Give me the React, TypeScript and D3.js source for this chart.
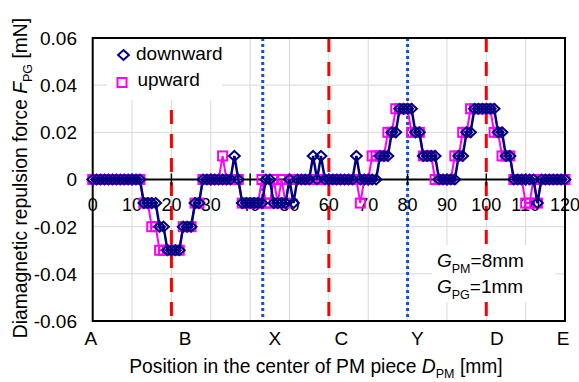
import React from "react";
import * as d3 from "d3";

const positions: number[] = d3.range(0, 121);
const downward: number[] = [
  0, 0, 0, 0, 0, 0, 0, 0, 0, 0,
  0, 0, 0, -0.01, -0.01, -0.01, -0.01, -0.02, -0.02, -0.03,
  -0.03, -0.03, -0.03, -0.02, -0.02, -0.02, -0.01, -0.01, 0, 0,
  0, 0, 0, 0, 0, 0, 0.01, 0, -0.01, -0.01,
  -0.01, -0.01, -0.01, -0.01, 0, 0, -0.01, -0.01, -0.01, -0.01,
  0, -0.01, 0, 0, 0, 0, 0.01, 0, 0.01, 0,
  0, 0, 0, 0, 0, 0, 0, 0.01, 0, 0,
  0, 0, 0, 0.01, 0.01, 0.01, 0.02, 0.02, 0.03, 0.03,
  0.03, 0.03, 0.02, 0.02, 0.01, 0.01, 0.01, 0.01, 0, 0,
  0, 0, 0, 0.01, 0.01, 0.02, 0.02, 0.03, 0.03, 0.03,
  0.03, 0.03, 0.03, 0.02, 0.02, 0.01, 0.01, 0, 0, 0,
  0, 0, 0, -0.01, 0, 0, 0, 0, 0, 0, 0,
];
const upward: number[] = [
  0, 0, 0, 0, 0, 0, 0, 0, 0, 0,
  0, 0, 0, -0.01, -0.01, -0.02, -0.02, -0.03, -0.03, -0.03,
  -0.03, -0.03, -0.03, -0.02, -0.02, -0.02, -0.01, -0.01, 0, 0,
  0, 0, 0, 0.01, 0, 0, 0, 0, -0.01, -0.01,
  -0.01, -0.01, -0.01, 0, -0.01, -0.01, 0, -0.01, 0, -0.01,
  0, 0, 0, 0, 0, 0, 0, 0, 0, 0,
  0, 0, 0, 0, 0, 0, 0, 0, -0.01, 0,
  0, 0.01, 0.01, 0.01, 0.01, 0.02, 0.02, 0.03, 0.03, 0.03,
  0.03, 0.02, 0.02, 0.02, 0.01, 0.01, 0.01, 0, 0, 0,
  0, 0, 0.01, 0.01, 0.02, 0.02, 0.03, 0.03, 0.03, 0.03,
  0.03, 0.03, 0.02, 0.02, 0.01, 0.01, 0.01, 0, 0, 0,
  -0.01, -0.01, 0, -0.01, 0, 0, 0, 0, 0, 0, 0,
];
const xTicks: number[] = d3.range(0, 121, 10);
const yTicks: number[] = [-0.06, -0.04, -0.02, 0, 0.02, 0.04, 0.06];
const categoryLabels: string[] = ["A", "B", "X", "C", "Y", "D", "E"];
const categoryPositions: number[] = [-0.5, 23.5, 46.3, 63.2, 82.5, 102.7, 119.5];
const redLines: number[] = [20, 60, 100];
const blueLines: number[] = [43.2, 80];

const FONT = "'Liberation Sans', Arial, sans-serif";

export default function App() {
  const W = 579, H = 382;
  const L = 92.7, R = 565, T = 38, B = 321;
  const x = d3.scaleLinear().domain([0, 120]).range([L, R]);
  const y = d3.scaleLinear().domain([-0.06, 0.06]).range([B, T]);
  const line = d3.line<number>().x((_, i) => x(positions[i])).y((d) => y(d));
  const diamond = (cx: number, cy: number) =>
    `M${cx},${cy - 5}L${cx + 5.4},${cy}L${cx},${cy + 5}L${cx - 5.4},${cy}Z`;

  return (
    <svg width={W} height={H} style={{ position: "absolute", left: 0, top: 0, fontFamily: FONT }}>
      <rect width={W} height={H} fill="#fff" />
      {/* gridlines */}
      {xTicks.filter((t) => t > 0 && t < 120).map((t) => (
        <line key={"gx" + t} x1={x(t)} x2={x(t)} y1={T} y2={B} stroke="#d9d9d9" strokeWidth={1} />
      ))}
      {yTicks.filter((t) => t !== 0 && Math.abs(t) < 0.06).map((t) => (
        <line key={"gy" + t} x1={L} x2={R} y1={y(t)} y2={y(t)} stroke="#d9d9d9" strokeWidth={1} />
      ))}
      {/* reference lines */}
      {redLines.map((v) => (
        <line key={"r" + v} x1={x(v)} x2={x(v)} y1={T} y2={B} stroke="#ff0000" strokeWidth={3} strokeDasharray="14,10" />
      ))}
      {blueLines.map((v) => (
        <line key={"b" + v} x1={x(v)} x2={x(v)} y1={T} y2={B} stroke="#1450d8" strokeWidth={3} strokeDasharray="3,3" />
      ))}
      {/* legend background */}
      <rect x={107} y={39} width={115} height={61} fill="#fff" />
      {/* annotation background */}
      <rect x={432} y={245} width={123} height={57} fill="#fff" />
      {/* zero axis */}
      <line x1={L} x2={R} y1={y(0)} y2={y(0)} stroke="#000" strokeWidth={2} />
      {xTicks.map((t) => (
        <line key={"tk" + t} x1={x(t)} x2={x(t)} y1={y(0) - 6} y2={y(0) + 6} stroke="#000" strokeWidth={1.5} />
      ))}
      {xTicks.map((t) => (
        <text key={"xl" + t} x={x(t)} y={211} fontSize={18} textAnchor="middle" fill="#000">{t}</text>
      ))}
      {/* frame */}
      <rect x={L} y={T} width={R - L} height={B - T} fill="none" stroke="#000" strokeWidth={2} />
      {/* y tick labels */}
      {yTicks.map((t) => (
        <text key={"yl" + t} x={77} y={y(t)} dy="0.36em" fontSize={19} textAnchor="end" fill="#000">
          {t === 0 ? "0" : t.toFixed(2)}
        </text>
      ))}
      {/* category labels */}
      {categoryLabels.map((c, i) => (
        <text key={"c" + c} x={x(categoryPositions[i])} y={345} fontSize={19} textAnchor="middle" fill="#000">{c}</text>
      ))}
      {/* axis titles */}
      <text x={316} y={373} fontSize={19.3} textAnchor="middle" fill="#000">
        Position in the center of PM piece <tspan fontStyle="italic">D</tspan>
        <tspan fontSize={12.5} dy={5}>PM</tspan>
        <tspan dy={-5}> [mm]</tspan>
      </text>
      <text transform={`translate(27,178) rotate(-90)`} fontSize={19.3} textAnchor="middle" fill="#000">
        Diamagnetic repulsion force <tspan fontStyle="italic">F</tspan>
        <tspan fontSize={12.5} dy={5}>PG</tspan>
        <tspan dy={-5}> [mN]</tspan>
      </text>
      {/* annotation */}
      <text x={437} y={267} fontSize={19} fill="#000">
        <tspan fontStyle="italic">G</tspan><tspan fontSize={12.5} dy={6}>PM</tspan><tspan dy={-6}>=8mm</tspan>
      </text>
      <text x={437} y={293} fontSize={19} fill="#000">
        <tspan fontStyle="italic">G</tspan><tspan fontSize={12.5} dy={6}>PG</tspan><tspan dy={-6}>=1mm</tspan>
      </text>
      {/* series: upward */}
      <path d={line(upward) || ""} fill="none" stroke="#ff00ff" strokeWidth={2} />
      {upward.map((v, i) => (
        <rect key={"u" + i} x={x(positions[i]) - 4.5} y={y(v) - 4.5} width={9} height={9} fill="none" stroke="#ff00ff" strokeWidth={2} />
      ))}
      {/* series: downward */}
      <path d={line(downward) || ""} fill="none" stroke="#000080" strokeWidth={2.5} />
      {downward.map((v, i) => (
        <path key={"d" + i} d={diamond(x(positions[i]), y(v))} fill="none" stroke="#000080" strokeWidth={2} />
      ))}
      {/* legend */}
      <path d={diamond(123.5, 55)} fill="none" stroke="#000080" strokeWidth={2} />
      <text x={136} y={60} fontSize={19} fill="#000">downward</text>
      <rect x={117.5} y={78} width={9} height={9} fill="none" stroke="#ff00ff" strokeWidth={2} />
      <text x={137.5} y={86} fontSize={19} fill="#000">upward</text>
    </svg>
  );
}
